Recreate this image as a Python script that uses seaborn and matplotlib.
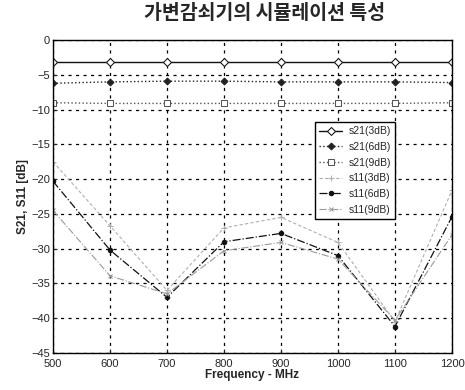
import numpy as np
import pandas as pd
import matplotlib
matplotlib.use("Agg")
import matplotlib.pyplot as plt
import seaborn as sns

freq = [500, 600, 700, 800, 900, 1000, 1100, 1200]
s21_3 = [-3.1, -3.1, -3.1, -3.1, -3.1, -3.1, -3.1, -3.1]
s21_6 = [-6.2, -6.0, -5.9, -5.9, -6.0, -6.0, -6.0, -6.1]
s21_9 = [-9.0, -9.1, -9.1, -9.1, -9.1, -9.1, -9.1, -9.0]
s11_3 = [-17.5, -26.7, -36.0, -27.0, -25.5, -29.1, -40.5, -21.6]
s11_6 = [-20.3, -30.2, -37.0, -29.0, -27.8, -31.0, -41.2, -25.4]
s11_9 = [-24.5, -33.9, -36.5, -30.3, -29.1, -31.5, -40.3, -28.0]
labels = ["s21(3dB)", "s21(6dB)", "s21(9dB)", "s11(3dB)", "s11(6dB)", "s11(9dB)"]
yticks = [0, -5, -10, -15, -20, -25, -30, -35, -40, -45]

sns.set_style("ticks")
plt.rcParams['font.family'] = ['Liberation Sans', 'Noto Sans CJK KR', 'DejaVu Sans']

series = [s21_3, s21_6, s21_9, s11_3, s11_6, s11_9]
df = pd.DataFrame({
    "freq": freq * len(series),
    "val": sum(series, []),
    "name": [n for n in labels for _ in freq],
})

styles = {
    "s21(3dB)": dict(color="#111111", ls="-", marker="D", mfc="white", ms=4.5, lw=1.0),
    "s21(6dB)": dict(color="#222222", ls=":", marker="D", mfc="#222222", ms=3.5, lw=1.0),
    "s21(9dB)": dict(color="#555555", ls=":", marker="s", mfc="white", ms=4.5, lw=1.0),
    "s11(3dB)": dict(color="#b0b0b0", ls=(0, (3, 2)), marker="+", mfc="none", ms=4.5, lw=0.8),
    "s11(6dB)": dict(color="#111111", ls="-.", marker="o", mfc="#111111", ms=3.2, lw=0.9),
    "s11(9dB)": dict(color="#9a9a9a", ls="-.", marker="x", mfc="none", ms=3.5, lw=0.8),
}

fig = plt.figure(figsize=(4.65, 3.9), dpi=100)
ax = fig.add_axes([0.114, 0.095, 0.858, 0.802])

for name in labels:
    st = styles[name]
    sns.lineplot(data=df[df["name"] == name], x="freq", y="val", ax=ax,
                 color=st["color"], linestyle=st["ls"], marker=st["marker"],
                 markerfacecolor=st["mfc"], markeredgecolor=st["color"],
                 markersize=st["ms"], linewidth=st["lw"], label=name)

ax.set_xlim(500, 1200)
ax.set_ylim(-45, 0)
ax.set_xticks(freq)
ax.set_yticks(yticks)
ax.grid(True, color="black", linestyle=(0, (2.5, 3.5)), linewidth=0.9)
ax.tick_params(direction="in", labelsize=8, length=3)
ax.tick_params(axis="x", pad=4)
ax.tick_params(axis="y", pad=2)
for sp in ax.spines.values():
    sp.set_color("black")
    sp.set_linewidth(1.0)

ax.set_xlabel("Frequency - MHz", fontsize=8.5, fontweight="bold", labelpad=0)
ax.set_ylabel("S21, S11 [dB]", fontsize=8.5, fontweight="bold", labelpad=2)
fig.suptitle("가변감쇠기의 시뮬레이션 특성", x=0.57, y=0.99, fontsize=14,
             fontweight="bold", family=['Noto Sans CJK KR'])

leg = ax.legend(loc="upper left", bbox_to_anchor=(0.644, 0.755), fontsize=7.5,
                frameon=True, fancybox=False, edgecolor="black", framealpha=1,
                handlelength=2.2, borderpad=0.4, labelspacing=0.55, handletextpad=0.6)
leg.get_frame().set_linewidth(1.0)

fig.savefig("out.png", dpi=100)
plt.close(fig)
